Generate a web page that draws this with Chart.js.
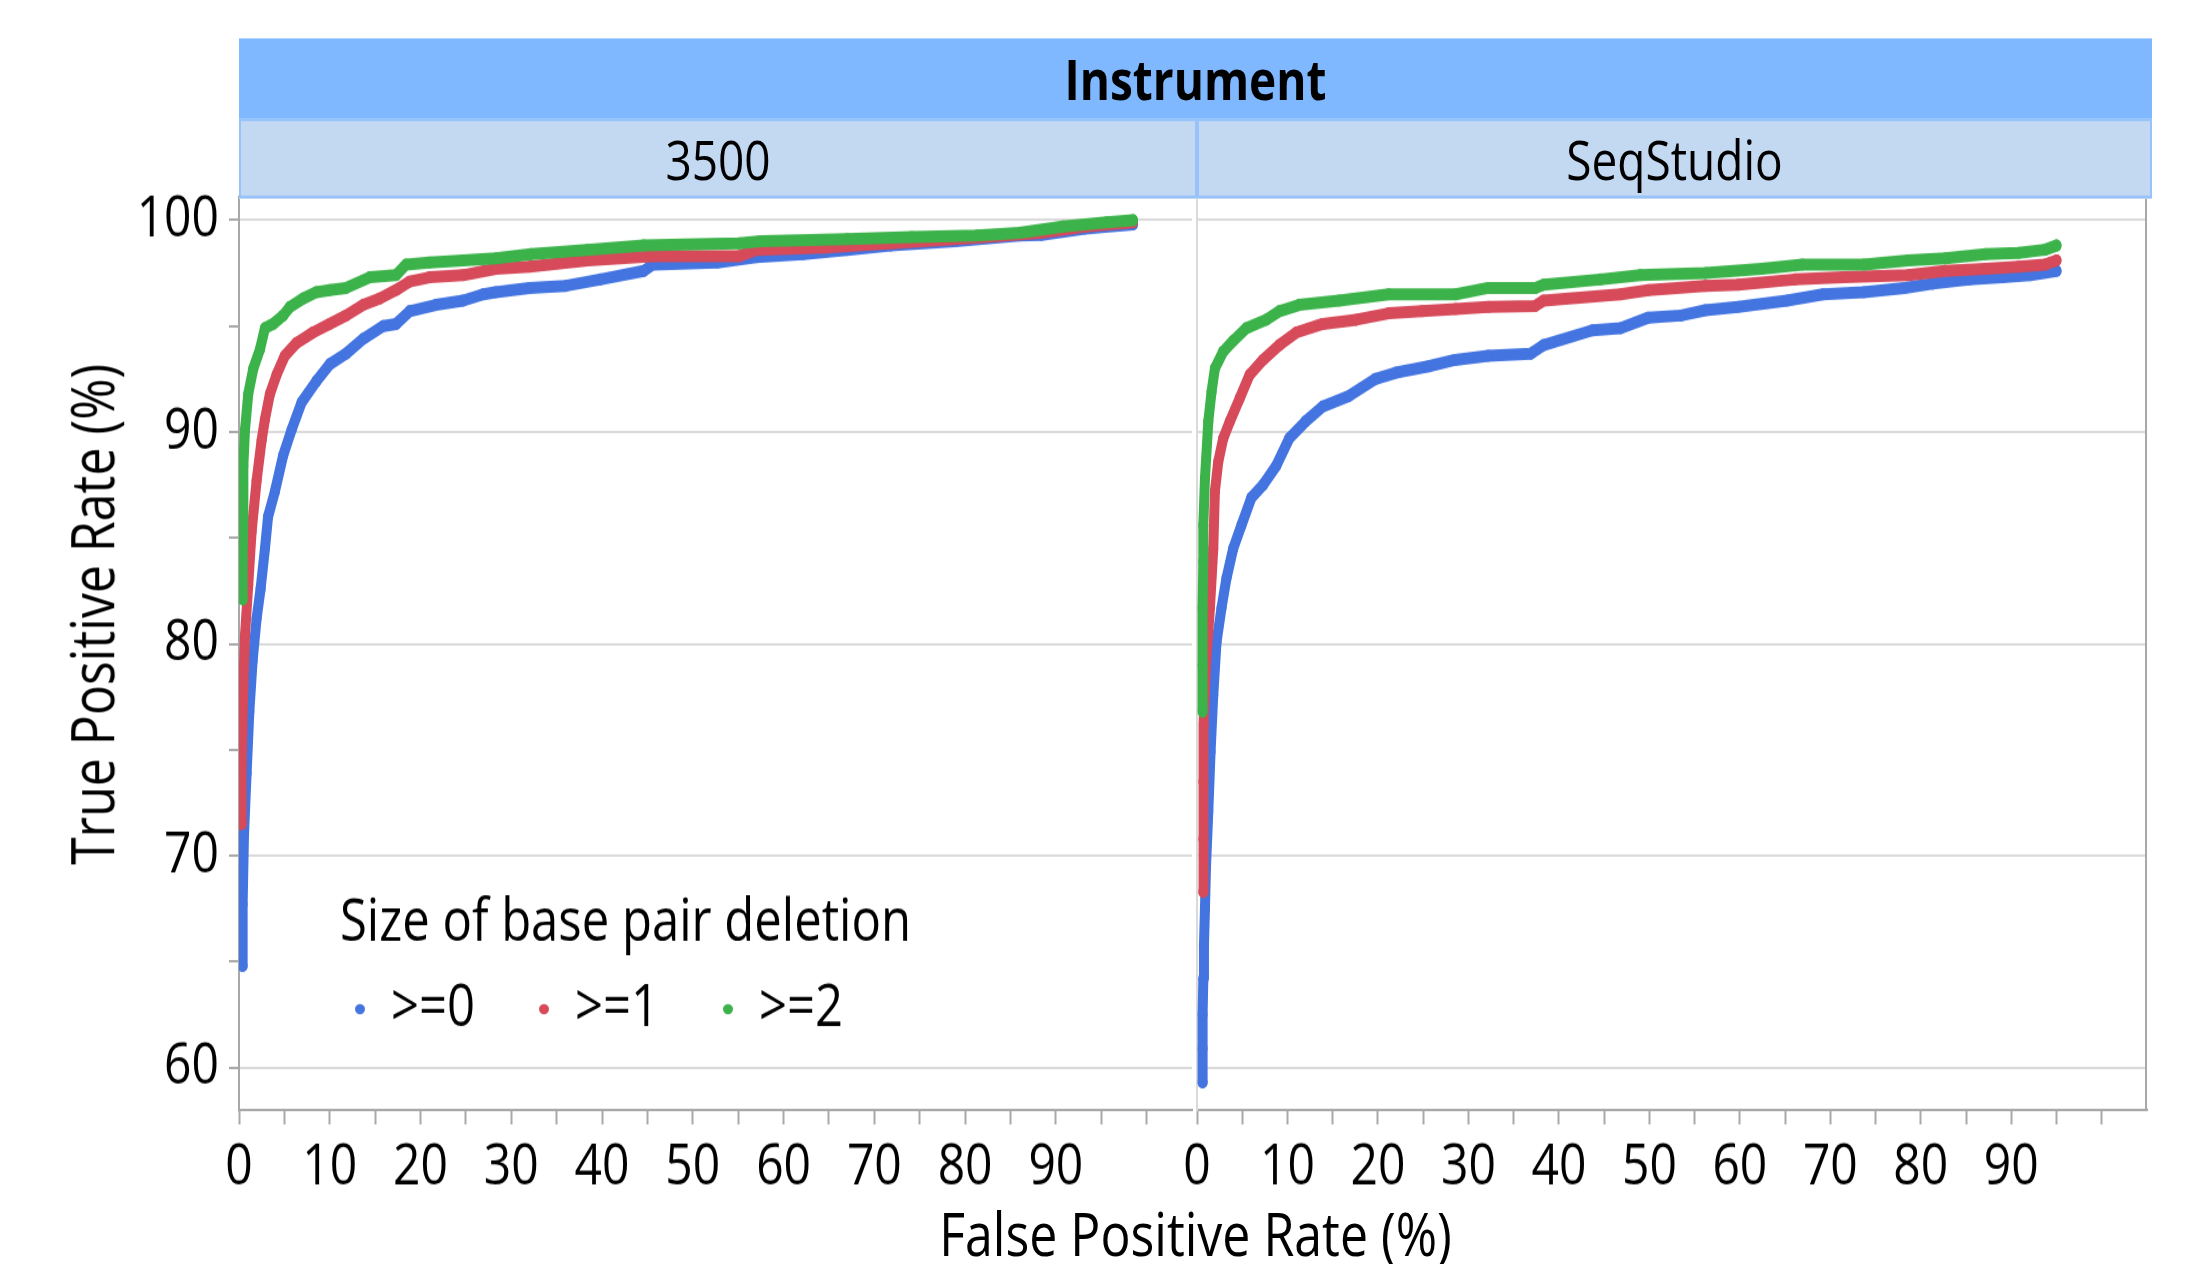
<!DOCTYPE html>
<html lang="en">
  <head>
    <meta charset="UTF-8" />
    <title>ROC curves by instrument</title>
    <style>
      html, body {
        margin: 0;
        background: #fff;
        font-family: "Open Sans", "Noto Sans", sans-serif;
      }
      #page {
        position: relative;
        width: 2203px;
        height: 1264px;
        overflow: hidden;
        background: #fff;
      }
      /* the figure is laid out at 1/1.2 height and stretched, like the reference */
      #wrap {
        position: absolute;
        left: 0;
        top: 0;
        width: 2203px;
        height: 1053px;
        transform: scaleY(1.2);
        transform-origin: 0 0;
      }
      .band {
        position: absolute;
        left: 239px;
        top: 32px;
        width: 1913px;
        height: 67px;
        line-height: 67px;
        background: #80b8ff;
        text-align: center;
        font-weight: bold;
        font-size: 46px;
        color: #000;
        z-index: 2;
      }
      .facet {
        position: absolute;
        top: 99px;
        height: 62px;
        line-height: 62px;
        background: #c3d8f1;
        border: 2px solid #97c2fa;
        text-align: center;
        font-size: 46px;
        color: #000;
        z-index: 2;
      }
      .box {
        position: absolute;
        top: 125px;
        height: 928px;
      }
      .xtitle {
        position: absolute;
        left: 239px;
        width: 1913px;
        top: 998px;
        height: 60px;
        line-height: 60px;
        text-align: center;
        font-size: 50px;
      }
      .ytitle {
        position: absolute;
        left: -209px;
        top: 482px;
        width: 600px;
        height: 60px;
        line-height: 60px;
        text-align: center;
        font-size: 50px;
        transform: rotate(-90deg) scale(0.8333, 1.2);
      }
    </style>
    <script src="https://cdn.jsdelivr.net/npm/chart.js"></script>
  </head>
  <body>
    <div id="page">
      <div id="wrap">
        <div class="box" style="left:0px;width:1197px"><canvas id="left"></canvas></div>
        <div class="box" style="left:1157px;width:995px"><canvas id="right"></canvas></div>
        <div class="band">Instrument</div>
        <div class="facet" style="left:239px;width:954px">3500</div>
        <div class="facet" style="left:1197px;width:951px">SeqStudio</div>
        <div class="xtitle">False Positive Rate (%)</div>
        <div class="ytitle">True Positive Rate (%)</div>
      </div>
    </div>
    <script>
      const legendTitle = "Size of base pair deletion";
      const seriesLabels = [">=0", ">=1", ">=2"];
      const seriesColors = ["#4374e0", "#d64a5a", "#3cb34a"];
      const xTicks = [0, 5, 10, 15, 20, 25, 30, 35, 40, 45, 50, 55, 60, 65, 70, 75, 80, 85, 90, 95, 100];
      const yTicks = [60, 65, 70, 75, 80, 85, 90, 95, 100];

      // 3500 panel
      const fpr3500_0 = [0.4, 0.4, 0.55, 0.84, 1.14, 1.5, 1.94, 2.38, 2.86, 3.2, 3.96, 4.87, 5.79, 6.9, 8.53, 10.0, 11.8, 13.7, 15.9, 17.3, 18.8, 21.7, 24.7, 26.9, 28.3, 32.0, 36.0, 39.8, 44.6, 45.6, 52.7, 57.0, 62.2, 67.0, 71.8, 78.9, 86.0, 88.4, 93.2, 98.5];
      const tpr3500_0 = [64.8, 67.7, 71.0, 73.9, 76.8, 79.2, 81.2, 82.6, 84.5, 86.0, 87.2, 88.9, 90.1, 91.4, 92.4, 93.2, 93.7, 94.4, 95.0, 95.1, 95.7, 96.0, 96.2, 96.5, 96.6, 96.8, 96.9, 97.2, 97.6, 97.9, 98.0, 98.25, 98.4, 98.6, 98.8, 99.0, 99.27, 99.3, 99.6, 99.8];
      const fpr3500_1 = [0.29, 0.29, 0.48, 0.66, 1.02, 1.39, 1.94, 2.49, 2.86, 3.41, 4.14, 5.05, 6.34, 8.17, 10.0, 11.8, 13.7, 15.5, 17.3, 18.8, 21.0, 24.7, 28.3, 32.0, 38.4, 45.6, 55.1, 57.0, 64.6, 71.8, 78.9, 88.4, 93.2, 98.5];
      const tpr3500_1 = [71.5, 74.4, 78.0, 80.4, 82.8, 85.3, 87.7, 89.6, 90.6, 91.8, 92.7, 93.6, 94.2, 94.7, 95.1, 95.5, 96.0, 96.3, 96.7, 97.1, 97.3, 97.4, 97.7, 97.8, 98.1, 98.3, 98.3, 98.6, 98.7, 98.9, 99.1, 99.4, 99.7, 99.9];
      const fpr3500_2 = [0.4, 0.4, 0.48, 0.48, 0.66, 1.02, 1.58, 2.31, 2.86, 3.77, 4.87, 5.6, 7.07, 8.53, 10.0, 11.8, 14.4, 17.3, 18.4, 21.0, 24.7, 28.3, 32.2, 38.4, 44.6, 55.1, 57.5, 67.0, 74.1, 81.3, 86.0, 90.8, 95.6, 98.5];
      const tpr3500_2 = [82.1, 84.0, 86.0, 88.4, 90.1, 91.8, 93.0, 93.9, 94.9, 95.1, 95.5, 95.9, 96.3, 96.6, 96.7, 96.8, 97.3, 97.4, 97.9, 98.0, 98.1, 98.2, 98.4, 98.6, 98.8, 98.9, 99.0, 99.1, 99.2, 99.27, 99.4, 99.7, 99.9, 100.0];

      // SeqStudio panel
      const fprSeq_0 = [0.62, 0.62, 0.62, 0.7, 0.77, 0.88, 0.99, 1.25, 1.5, 1.8, 2.16, 2.71, 3.26, 4.0, 4.91, 6.01, 7.3, 8.75, 10.2, 12.0, 13.9, 16.8, 19.7, 22.0, 25.6, 28.5, 32.2, 36.9, 38.3, 43.7, 46.8, 49.9, 53.5, 56.2, 59.8, 65.2, 69.2, 73.7, 78.2, 81.3, 85.4, 89.0, 92.1, 95.0];
      const tprSeq_0 = [59.3, 60.9, 62.5, 64.2, 65.8, 67.5, 69.4, 72.1, 74.9, 77.6, 80.1, 81.7, 83.1, 84.5, 85.6, 86.9, 87.5, 88.4, 89.7, 90.5, 91.2, 91.7, 92.5, 92.8, 93.1, 93.4, 93.6, 93.7, 94.1, 94.8, 94.9, 95.4, 95.5, 95.75, 95.9, 96.2, 96.5, 96.6, 96.8, 97.0, 97.2, 97.3, 97.4, 97.6];
      const fprSeq_1 = [0.7, 0.7, 0.7, 0.77, 0.99, 1.43, 1.8, 1.98, 2.35, 2.9, 3.63, 4.73, 5.82, 7.29, 9.1, 11.0, 13.9, 17.6, 21.2, 24.9, 28.6, 32.2, 37.4, 38.3, 46.8, 49.9, 56.2, 59.8, 66.1, 71.5, 78.6, 82.7, 87.2, 90.8, 93.7, 95.0];
      const tprSeq_1 = [68.3, 70.8, 73.5, 76.2, 79.0, 81.7, 84.5, 87.2, 88.6, 89.7, 90.5, 91.6, 92.7, 93.4, 94.1, 94.7, 95.1, 95.3, 95.6, 95.7, 95.8, 95.9, 95.95, 96.2, 96.5, 96.7, 96.9, 96.95, 97.2, 97.3, 97.4, 97.6, 97.7, 97.8, 97.9, 98.1];
      const fprSeq_2 = [0.62, 0.62, 0.62, 0.7, 0.7, 0.88, 1.25, 1.61, 1.98, 2.9, 4.0, 5.46, 7.66, 9.1, 11.3, 15.7, 21.2, 28.6, 32.2, 37.4, 38.3, 44.6, 49.0, 56.2, 62.4, 66.9, 73.7, 78.6, 82.7, 87.2, 90.8, 93.7, 95.0];
      const tprSeq_2 = [76.8, 79.0, 81.7, 83.9, 85.6, 87.8, 90.5, 91.9, 93.0, 93.8, 94.3, 94.9, 95.3, 95.7, 96.0, 96.2, 96.5, 96.5, 96.8, 96.8, 96.95, 97.2, 97.4, 97.5, 97.7, 97.9, 97.9, 98.1, 98.2, 98.4, 98.45, 98.6, 98.8];

      const fontFamily = '"Open Sans", "Noto Sans", sans-serif';
      Chart.defaults.font.family = fontFamily;
      Chart.defaults.color = "#000";

      function toPoints(xs, ys) {
        return xs.map((x, i) => ({ x: x, y: ys[i] }));
      }

      function makeDatasets(xsList, ysList) {
        return xsList.map((xs, i) => ({
          label: seriesLabels[i],
          data: toPoints(xs, ysList[i]),
          showLine: true,
          borderColor: seriesColors[i],
          backgroundColor: seriesColors[i],
          borderWidth: 10,
          borderCapStyle: "round",
          borderJoinStyle: "round",
          pointRadius: 5,
          pointBorderWidth: 0,
          tension: 0,
          order: 2 - i
        }));
      }

      // legend inside the left panel, plus the right panel's outer edge
      const panelDecor = {
        id: "panelDecor",
        afterDraw(chart, args, opts) {
          const ctx = chart.ctx;
          const area = chart.chartArea;
          if (opts.edgeColor) {
            ctx.save();
            ctx.strokeStyle = opts.edgeColor;
            ctx.lineWidth = 2;
            ctx.beginPath();
            ctx.moveTo(area.right - 1, area.top);
            ctx.lineTo(area.right - 1, area.bottom);
            ctx.stroke();
            ctx.restore();
          }
          if (opts.legend) {
            ctx.save();
            ctx.font = "49px " + fontFamily;
            ctx.fillStyle = "#000";
            ctx.textBaseline = "middle";
            ctx.textAlign = "left";
            ctx.fillText(legendTitle, 340, 645);
            const xs = [360, 544, 728];
            seriesLabels.forEach((lab, i) => {
              ctx.fillStyle = seriesColors[i];
              ctx.beginPath();
              ctx.ellipse(xs[i], 716, 5, 4.2, 0, 0, Math.PI * 2);
              ctx.fill();
              ctx.fillStyle = "#000";
              ctx.fillText(lab, xs[i] + 31, 716);
            });
            ctx.restore();
          }
        }
      };

      function makeChart(id, xsList, ysList, isLeft) {
        return new Chart(document.getElementById(id), {
          type: "scatter",
          data: { datasets: makeDatasets(xsList, ysList) },
          options: {
            responsive: true,
            maintainAspectRatio: false,
            animation: false,
            layout: { padding: { top: 39, right: 0, bottom: 0, left: isLeft ? 0 : 40 } },
            plugins: {
              legend: { display: false },
              tooltip: { enabled: false },
              panelDecor: { legend: isLeft, edgeColor: isLeft ? null : "#a8a8a8" }
            },
            scales: {
              x: {
                type: "linear",
                min: 0,
                max: 105,
                afterBuildTicks: s => { s.ticks = xTicks.map(v => ({ value: v })); },
                afterFit: s => {
                  s.height = 128;
                  s.paddingLeft = 0;
                  s.paddingRight = 0;
                },
                ticks: {
                  autoSkip: false,
                  maxRotation: 0,
                  padding: 8,
                  font: { size: 48 },
                  callback: v => (v % 10 === 0 && v < 100 ? v : "")
                },
                grid: {
                  drawOnChartArea: false,
                  drawTicks: true,
                  tickLength: 12,
                  tickColor: "#a8a8a8",
                  tickWidth: 2
                },
                border: { display: true, color: "#a8a8a8", width: 2 }
              },
              y: {
                type: "linear",
                min: 58,
                max: 101.1,
                afterBuildTicks: s => { s.ticks = yTicks.map(v => ({ value: v })); },
                afterFit: s => { s.width = isLeft ? 239 : 0; },
                ticks: {
                  display: isLeft,
                  autoSkip: false,
                  padding: 10,
                  font: { size: 48 },
                  callback: v => (v % 10 === 0 ? v : "")
                },
                grid: {
                  drawOnChartArea: true,
                  drawTicks: isLeft,
                  tickLength: 10,
                  lineWidth: 2,
                  color: c => (c.tick && c.tick.value % 10 === 0 ? "#dadada" : "rgba(0,0,0,0)"),
                  tickColor: "#a8a8a8",
                  tickWidth: 2
                },
                border: { display: true, color: isLeft ? "#a8a8a8" : "#dadada", width: 2 }
              }
            }
          },
          plugins: [panelDecor]
        });
      }

      makeChart("left", [fpr3500_0, fpr3500_1, fpr3500_2], [tpr3500_0, tpr3500_1, tpr3500_2], true);
      makeChart("right", [fprSeq_0, fprSeq_1, fprSeq_2], [tprSeq_0, tprSeq_1, tprSeq_2], false);
    </script>
  </body>
</html>
